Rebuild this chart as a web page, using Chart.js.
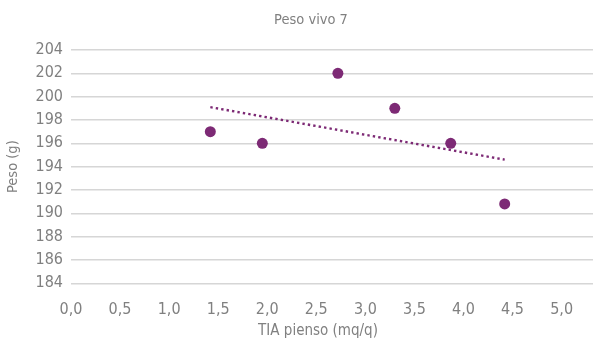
<!DOCTYPE html>
<html>
<head>
<meta charset="utf-8">
<script src="https://cdn.jsdelivr.net/npm/chart.js@4"></script>
<style>
  html, body { margin: 0; padding: 0; background: #ffffff; }
  #wrap { width: 593px; height: 348px; position: relative; }
</style>
</head>
<body>
<div id="wrap"><canvas id="c"></canvas></div>
<script>
// ---- data ----
const chartTitle = 'Peso vivo 7';
const xAxisTitle = 'TIA pienso (mq/q)';
const yAxisTitle = 'Peso (g)';
const tiaValues = [1.42, 1.95, 2.72, 3.30, 3.87, 4.42];
const pesoValues = [197, 196, 202, 199, 196, 190.8];
const trendX = [1.42, 4.42];
const trendY = [199.1, 194.6];
const xTickValues = [0, 0.5, 1, 1.5, 2, 2.5, 3, 3.5, 4, 4.5, 5];
const yMin = 184, yMax = 204, yStep = 2;

const FONT = "'DejaVu Sans', sans-serif";
const STRETCH = 'condensed';
const GREY = '#808080';
const PURPLE = '#7D2A75';

const points = tiaValues.map((x, i) => ({ x: x, y: pesoValues[i] }));
const trend = trendX.map((x, i) => ({ x: x, y: trendY[i] }));

const titlesPlugin = {
  id: 'titles',
  afterDraw(chart) {
    const ctx = chart.ctx;
    ctx.save();
    ctx.fillStyle = GREY;
    ctx.textAlign = 'center';
    ctx.textBaseline = 'middle';
    ctx.font = STRETCH + ' 14.5px ' + FONT;
    ctx.fillText(chartTitle, 311, 20);
    ctx.font = STRETCH + ' 15px ' + FONT;
    ctx.fillText(xAxisTitle, 318, 331);
    ctx.restore();
  }
};

new Chart(document.getElementById('c'), {
  type: 'scatter',
  data: {
    datasets: [
      {
        label: 'Tendencia',
        type: 'line',
        data: trend,
        borderColor: PURPLE,
        borderWidth: 2.4,
        borderDash: [2.4, 3.1],
        borderCapStyle: 'butt',
        pointRadius: 0,
        fill: false,
        tension: 0
      },
      {
        label: chartTitle,
        data: points,
        backgroundColor: PURPLE,
        borderColor: PURPLE,
        pointRadius: 5.5,
        pointBorderWidth: 0,
        showLine: false
      }
    ]
  },
  options: {
    responsive: true,
    maintainAspectRatio: false,
    animation: false,
    layout: { autoPadding: false, padding: { top: 50, left: 0, right: 0, bottom: 0 } },
    plugins: {
      legend: { display: false },
      tooltip: { enabled: false },
      title: { display: false }
    },
    scales: {
      x: {
        type: 'linear',
        min: 0,
        max: 5.32,
        grid: { display: false, drawTicks: false },
        border: { display: false },
        ticks: {
          color: GREY,
          font: { family: FONT, size: 16, weight: STRETCH },
          padding: 17,
          maxRotation: 0,
          autoSkip: false,
          callback: (v) => Number(v).toFixed(1).replace('.', ',')
        },
        afterBuildTicks: (scale) => { scale.ticks = xTickValues.map(v => ({ value: v })); },
        afterFit: (scale) => { scale.height = 64.7; }
      },
      y: {
        min: yMin,
        max: yMax,
        grid: { color: '#d6d6d6', lineWidth: 1.5, drawTicks: false },
        border: { display: false },
        ticks: {
          stepSize: yStep,
          autoSkip: false,
          color: GREY,
          font: { family: FONT, size: 16, weight: STRETCH },
          padding: 8
        },
        title: {
          display: true,
          text: yAxisTitle,
          color: GREY,
          font: { family: FONT, size: 14.5, weight: STRETCH },
          padding: { top: 5, bottom: 0 }
        },
        afterFit: (scale) => { scale.width = 71; }
      }
    }
  },
  plugins: [titlesPlugin]
});
</script>
</body>
</html>
